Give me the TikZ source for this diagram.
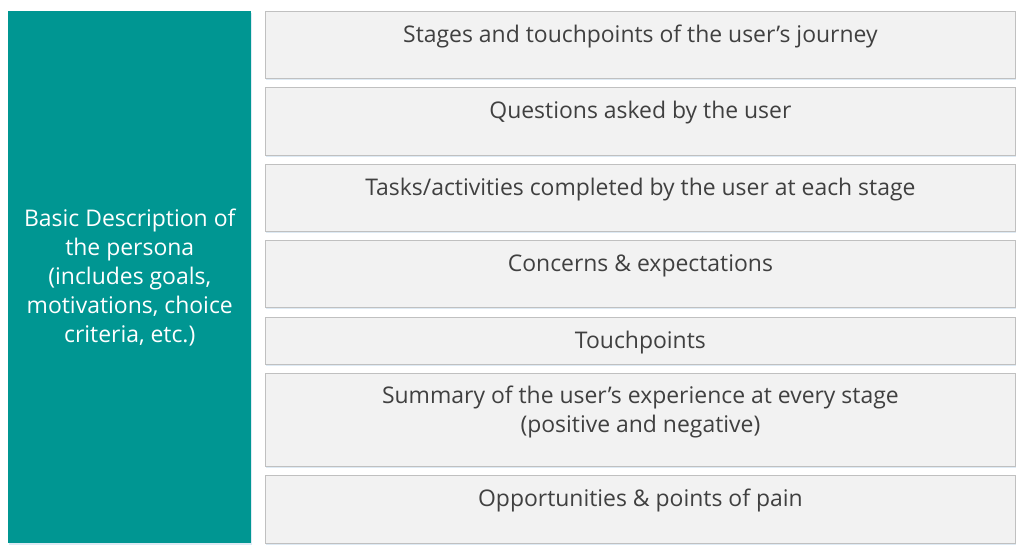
\documentclass[tikz,border=0pt]{standalone}
\usepackage{fontspec}
\setmainfont{Open Sans}
\usetikzlibrary{positioning,shadows}
\definecolor{tealbox}{RGB}{0,150,146}
\definecolor{rowfill}{RGB}{242,242,242}
\definecolor{rowline}{RGB}{192,192,192}
\definecolor{rowtextc}{RGB}{64,64,64}
\definecolor{glow}{RGB}{222,234,244}
\tikzset{
  rowbox/.style={draw=rowline,fill=rowfill,line width=0.6pt,anchor=north west,
    drop shadow={shadow xshift=0.6pt,shadow yshift=-1.2pt,fill=glow,opacity=1}},
  rowtext/.style={text=rowtextc,align=center,anchor=base,inner sep=0pt,
    font=\fontsize{17.2}{21.75}\selectfont},
}
\begin{document}
\begin{tikzpicture}[x=0.75pt,y=-0.75pt]
  \useasboundingbox (0,0) rectangle (1026,554);

  % persona column
  \node[fill=tealbox,anchor=north west,minimum width=243*0.75pt,minimum height=532*0.75pt,
    inner sep=0pt,drop shadow={shadow xshift=0.6pt,shadow yshift=-1.2pt,fill=glow,opacity=1}]
    (persona) at (8,11) {};
  \node[text=white,align=center,font=\fontsize{17.2}{21.75}\selectfont] at (persona.center)
    {Basic Description of\\the persona\\(includes goals,\\motivations, choice\\criteria, etc.)};

  % journey rows (last number: baseline of last text line below the box top)
  \foreach \name/\top/\ht/\txt/\bl in {
      stages/11/67/{Stages and touchpoints of the user’s journey}/31,
      questions/87/68/{Questions asked by the user}/31,
      tasks/164/67/{Tasks/activities completed by the user at each stage}/31,
      concerns/240/67/{Concerns \& expectations}/31,
      touch/317/47/{Touchpoints}/31,
      summary/373/93/{Summary of the user’s experience at every stage\\(positive and negative)}/59,
      pain/475/68/{Opportunities \& points of pain}/31} {
    \node[rowbox,minimum width=750*0.75pt,minimum height=\ht*0.75pt,inner sep=0pt]
      (\name) at (265,\top) {};
    \node[rowtext] at ([yshift=-\bl*0.75pt]\name.north) {\txt};
  }
\end{tikzpicture}
\end{document}
